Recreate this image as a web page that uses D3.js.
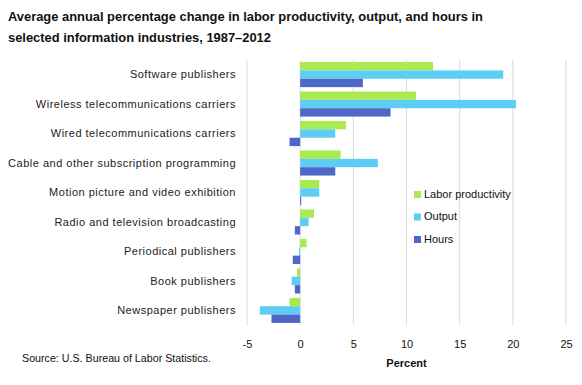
<!DOCTYPE html>
<html>
<head>
<meta charset="utf-8">
<script src="https://cdn.jsdelivr.net/npm/d3@7"></script>
<style>
  body { margin: 0; background: #fff; }
  text { font-family: "Liberation Sans", Arial, sans-serif; }
</style>
</head>
<body>
<svg id="chart" width="582" height="385"></svg>
<script>
const categories = [
  "Software publishers",
  "Wireless telecommunications carriers",
  "Wired telecommunications carriers",
  "Cable and other subscription programming",
  "Motion picture and video exhibition",
  "Radio and television broadcasting",
  "Periodical publishers",
  "Book publishers",
  "Newspaper publishers",
];
const seriesNames = ["Labor productivity", "Output", "Hours"];
const laborProductivity = [12.5, 10.9, 4.3, 3.8, 1.8, 1.3, 0.6, -0.3, -1.0];
const output = [19.1, 20.3, 3.3, 7.3, 1.8, 0.8, -0.1, -0.8, -3.8];
const hours = [5.9, 8.5, -1.0, 3.3, 0.1, -0.5, -0.7, -0.5, -2.7];
const xTicks = [-5, 0, 5, 10, 15, 20, 25];
const colors = ["#a9ea52", "#5ecdf3", "#4f67c8"];

const seriesValues = [laborProductivity, output, hours];
const data = categories.map((c, i) => ({
  category: c,
  values: seriesNames.map((s, j) => ({ series: s, value: seriesValues[j][i] })),
}));

const svg = d3.select("#chart");
const margin = { top: 60, right: 16, bottom: 60, left: 247 };
const width = 582;
const height = 385;

const x = d3.scaleLinear().domain([-5, 25]).range([margin.left, 566]);
const y = d3
  .scaleBand()
  .domain(categories)
  .range([margin.top, height - margin.bottom])
  .paddingInner(0.15)
  .paddingOuter(0.07);
const ySub = d3.scaleBand().domain(seriesNames).range([0, y.bandwidth()]);

// title
svg
  .append("text")
  .attr("x", 8)
  .attr("y", 21)
  .style("font-size", "12.9px")
  .style("font-weight", "bold")
  .attr("fill", "#111")
  .text("Average annual percentage change in labor productivity, output, and hours in");
svg
  .append("text")
  .attr("x", 8)
  .attr("y", 42)
  .style("font-size", "12.9px")
  .style("font-weight", "bold")
  .attr("fill", "#111")
  .text("selected information industries, 1987\u20132012");

// gridlines
svg
  .append("g")
  .selectAll("line")
  .data(xTicks)
  .join("line")
  .attr("x1", (d) => x(d))
  .attr("x2", (d) => x(d))
  .attr("y1", margin.top)
  .attr("y2", 325)
  .attr("stroke", "#d9d9d9")
  .attr("stroke-width", 1);

// x axis
const xAxis = (g) =>
  g
    .attr("transform", `translate(0,337)`)
    .call(d3.axisBottom(x).tickValues(xTicks).tickSize(0).tickFormat((d) => String(d)))
    .call((g) => g.select(".domain").remove())
    .call((g) =>
      g.selectAll(".tick text").style("font-size", "11px").attr("fill", "#111").attr("dy", "0.71em")
    );
svg.append("g").call(xAxis);

svg
  .append("text")
  .attr("x", x(10))
  .attr("y", 367)
  .attr("text-anchor", "middle")
  .style("font-size", "11px")
  .style("font-weight", "bold")
  .attr("fill", "#111")
  .text("Percent");

// bars
const groups = svg
  .append("g")
  .selectAll("g")
  .data(data)
  .join("g")
  .attr("transform", (d) => `translate(0,${y(d.category)})`);

groups
  .selectAll("rect")
  .data((d) => d.values)
  .join("rect")
  .attr("x", (d) => x(Math.min(0, d.value)))
  .attr("y", (d) => ySub(d.series))
  .attr("width", (d) => Math.abs(x(d.value) - x(0)))
  .attr("height", ySub.bandwidth())
  .attr("fill", (d, i) => colors[i]);

// category labels
svg
  .append("g")
  .selectAll("text")
  .data(categories)
  .join("text")
  .attr("x", 236)
  .attr("y", (d) => y(d) + y.bandwidth() / 2)
  .attr("dy", "0.35em")
  .attr("text-anchor", "end")
  .style("font-size", "11px")
  .style("letter-spacing", "0.5px")
  .attr("fill", "#222")
  .text((d) => d);

// legend
const legend = svg
  .append("g")
  .selectAll("g")
  .data(seriesNames)
  .join("g")
  .attr("transform", (d, i) => `translate(414,${194 + i * 22.5})`);
legend
  .append("rect")
  .attr("x", 0)
  .attr("y", -3)
  .attr("width", 7)
  .attr("height", 7)
  .attr("fill", (d, i) => colors[i]);
legend
  .append("text")
  .attr("x", 10)
  .attr("y", 0)
  .attr("dy", "0.35em")
  .style("font-size", "11px")
  .attr("fill", "#111")
  .text((d) => d);

// source
svg
  .append("text")
  .attr("x", 22)
  .attr("y", 358)
  .attr("dy", "0.35em")
  .style("font-size", "10.7px")
  .attr("fill", "#111")
  .text("Source: U.S. Bureau of Labor Statistics.");
</script>
</body>
</html>
